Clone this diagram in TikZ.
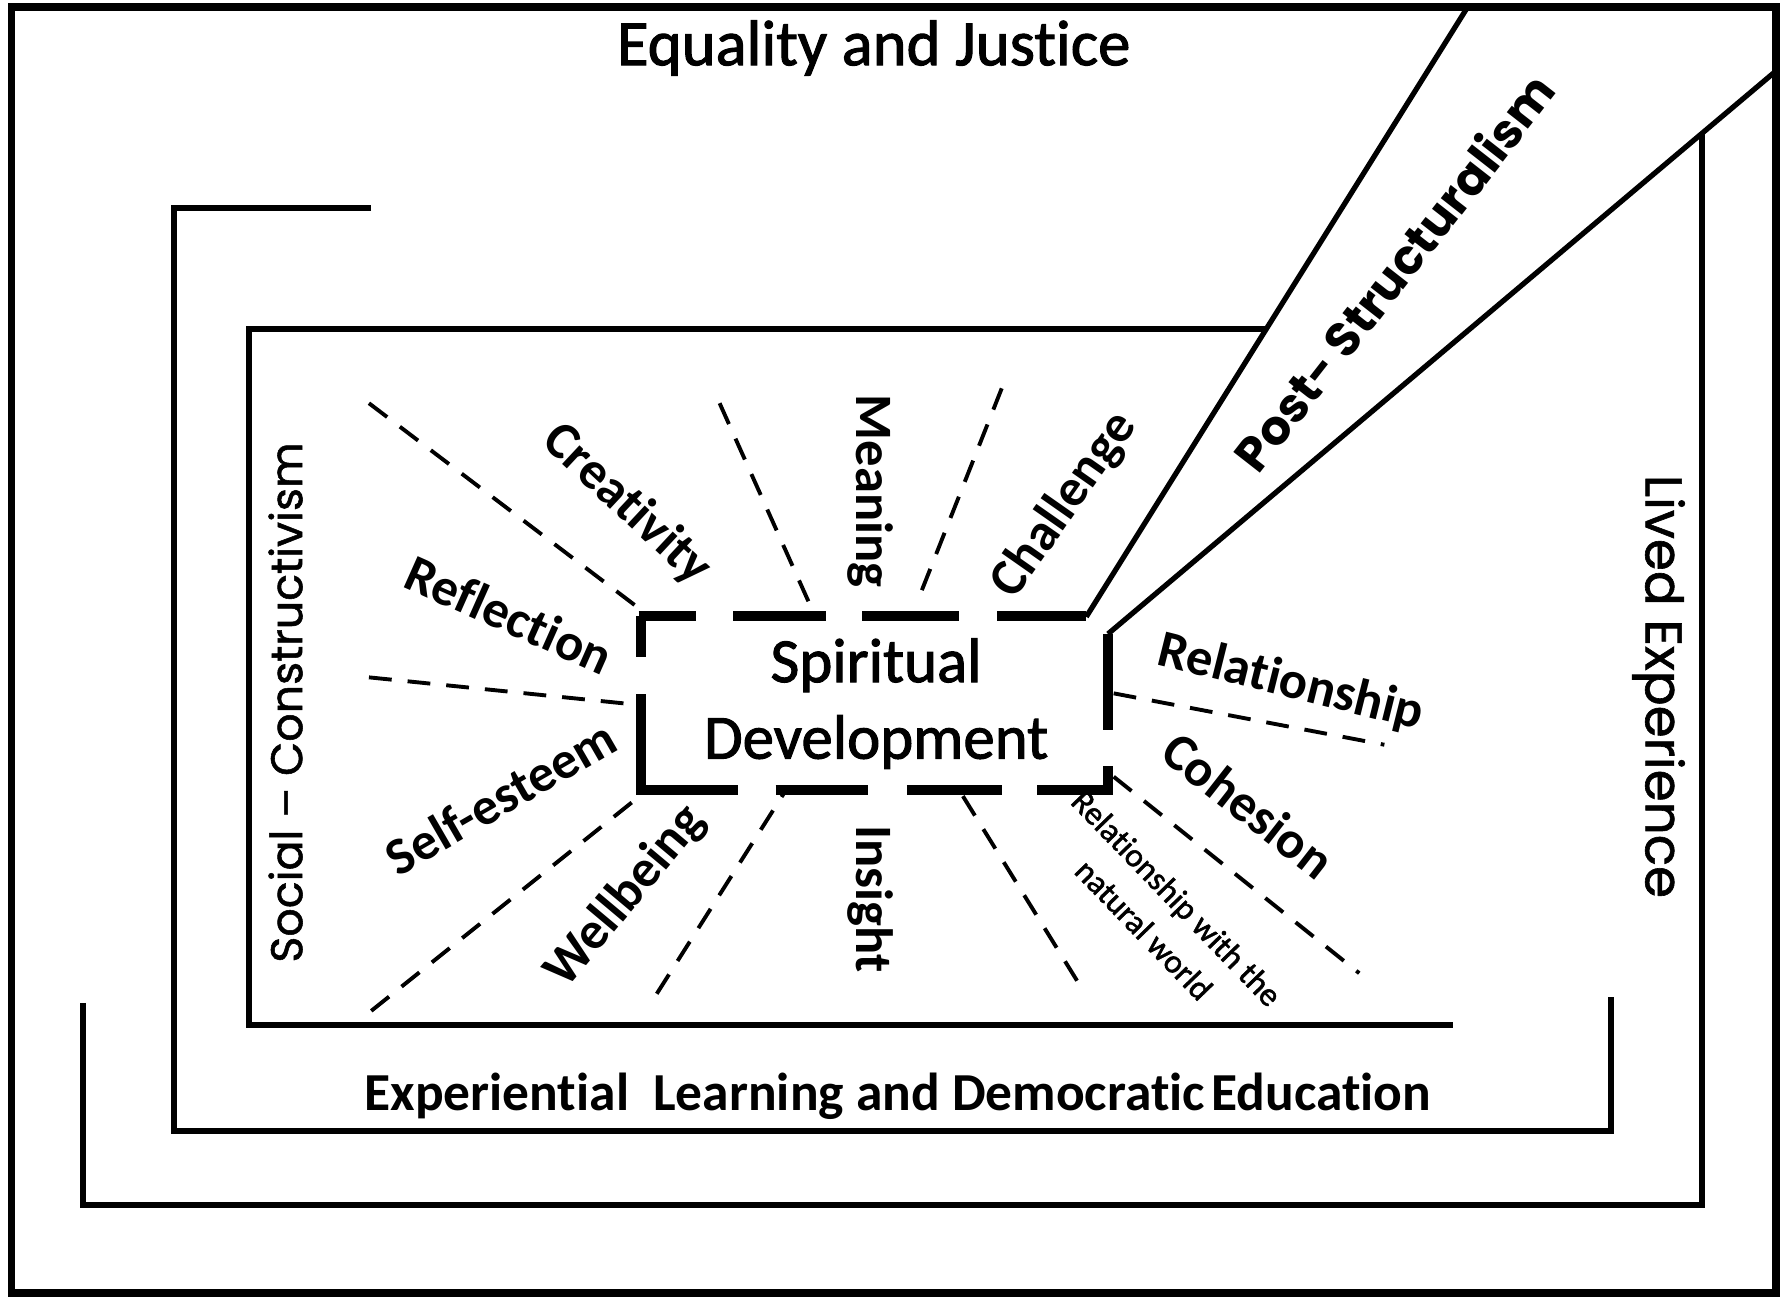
\documentclass[tikz,border=0pt]{standalone}
\usepackage{fontspec}
\setmainfont{Carlito}[Ligatures=NoCommon]
\newfontfamily\calmid{Carlito}[Ligatures=NoCommon, FakeBold=1.6]
\newfontfamily\gothic{Poppins}[FakeBold=1.2]
\newfontfamily\gothicb{Poppins}
\begin{document}
\begin{tikzpicture}[x=0.5pt,y=-0.5pt,
  frame/.style={line width=2.6pt},
  outerframe/.style={line width=3.4pt},
  band/.style={line width=2.3pt},
  sdbox/.style={line width=4.4pt},
  ray/.style={line width=1.7pt, dash pattern=on 10pt off 7pt},
  lbl/.style={font=\fontsize{23}{27}\selectfont\bfseries, inner sep=0pt},
  big/.style={inner sep=0pt},
]
\useasboundingbox[fill=white] (0,0) rectangle (1568,1136);
% frames
\draw[outerframe] (10,6) rectangle (1555,1132);
\draw[frame] (73,878) -- (73,1055) -- (1490,1055) -- (1490,117);
\draw[frame] (325,182) -- (152,182) -- (152,990) -- (1410,990) -- (1410,873);
\draw[frame] (1108,288) -- (218,288) -- (218,897) -- (1272,897);
% post-structuralism band
\coordinate (a1) at (1285,6);
\coordinate (a2) at (951,540);
\coordinate (b1) at (1555,62);
\coordinate (b2) at (970,555);
\draw[band] (a1) -- (a2);
\draw[band] (b1) -- (b2);
% central box
\node[big, align=center, font=\calmid\fontsize{27.5}{33.5}\selectfont] (sd) at (767,616) {Spiritual\\Development};
\draw[sdbox] (561,539) -- (561,575);
\draw[sdbox] (561,608) -- (561,692) -- (646,692);
\draw[sdbox] (559,539) -- (609,539);
\draw[sdbox] (642,539) -- (723,539);
\draw[sdbox] (755,539) -- (840,539);
\draw[sdbox] (873,539) -- (951,539);
\draw[sdbox] (679,692) -- (760,692);
\draw[sdbox] (794,692) -- (877,692);
\draw[sdbox] (908,692) -- (970,692) -- (970,671);
\draw[sdbox] (970,639) -- (b2);
% rays
\draw[ray] (323,353) -- (560,533);
\draw[ray] (630,353) -- (708,527);
\draw[ray] (877,340) -- (803,527);
\draw[ray] (323,593) -- (558,617);
\draw[ray] (325,885) -- (565,693);
\draw[ray] (575,870) -- (686,695);
\draw[ray] (843,697) -- (950,870);
\draw[ray] (975,680) -- (1190,852);
\draw[ray] (975,607) -- (1212,652);
% labels
\node[lbl, rotate=-43] (cre) at (549,442) {Creativity};
\node[lbl, rotate=-24] (ref) at (446,538) {Reflection};
\node[lbl, rotate=30] (sel) at (438,698) {Self-esteem};
\node[lbl, rotate=50] (wel) at (548,785) {Wellbeing};
\node[lbl, rotate=-90] (mea) at (762,430) {Meaning};
\node[lbl, rotate=-90] (ins) at (762,787) {Insight};
\node[lbl, rotate=55] (cha) at (932,442) {Challenge};
\node[lbl, rotate=-14] (rel) at (1130,598) {Relationship};
\node[lbl, rotate=-38] (coh) at (1093,705) {Cohesion};
\node[big, rotate=-46, align=center, font=\calmid\fontsize{14.5}{20}\selectfont] (nat) at (1016,800) {Relationship with the\\natural world};
% frame titles
\node[big, font=\calmid\fontsize{28.3}{32}\selectfont] (eq) at (765,42) {Equality and Justice};
\node[big, font=\fontsize{23.4}{28}\selectfont\bfseries] (exp) at (786,960) {Experiential\ \ Learning and Democratic\hspace{0.12em}Education};
\node[big, rotate=90, font=\gothic\fontsize{19.4}{24}\selectfont] (sc) at (250,615) {Social – Constructivism};
\node[big, rotate=-90, font=\gothic\fontsize{22.6}{28}\selectfont] (le) at (1452,601) {Lived Experience};
\node[big, rotate=52, font=\gothicb\fontsize{21}{26}\selectfont\bfseries] (ps) at (1220,238) {Post- Structuralism};
\end{tikzpicture}
\end{document}
